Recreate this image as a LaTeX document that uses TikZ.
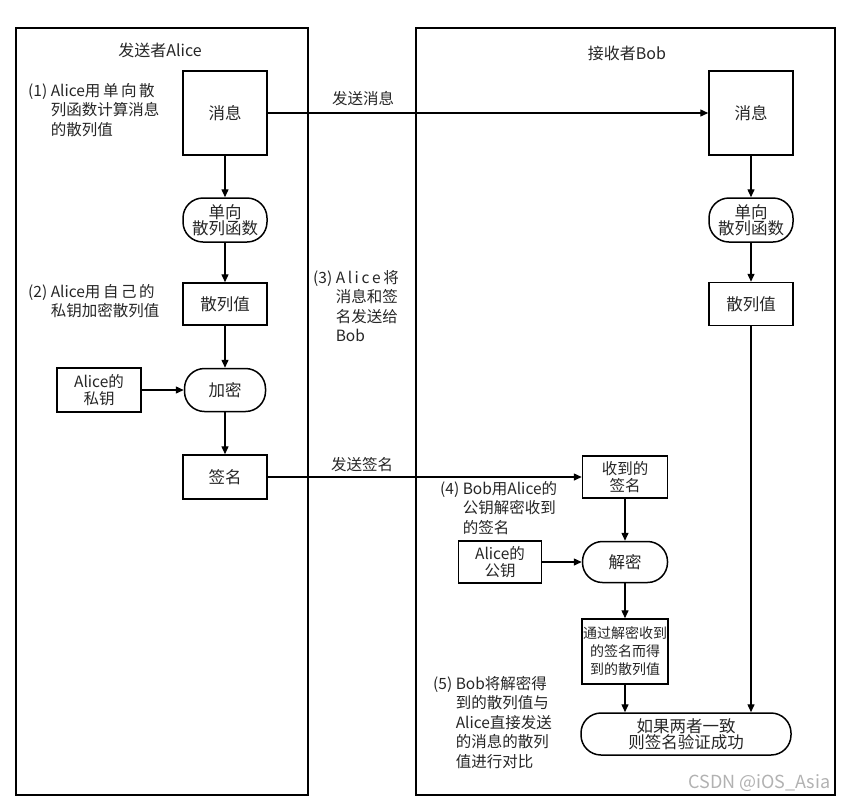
\documentclass[tikz,border=0pt]{standalone}
\usepackage{fontspec}
\setmainfont{Noto Sans CJK SC}
\usetikzlibrary{arrows.meta}
\begin{document}
\begin{tikzpicture}[x=1pt,y=-1pt,
  every node/.style={font=\fontsize{16.5}{19}\selectfont, text=black!85},
  box/.style={draw=black, line width=1.5pt, inner sep=1pt, align=center, minimum width=84pt},
  stad/.style={draw=black, line width=1.5pt, rounded corners=20pt, inner sep=1pt, align=center, minimum width=84pt},
  frame/.style={draw=black, line width=1.6pt, inner sep=0pt},
  arr/.style={draw=black, line width=1.4pt, -{Triangle[length=8pt,width=7pt]}},
  note/.style={anchor=north west, inner sep=0pt, align=left, font=\fontsize{15.5}{19.5}\selectfont}]
\useasboundingbox (0,0) rectangle (850,804);
\fill[white] (0,0) rectangle (850,804);
% panels
\node[frame, minimum width=292pt, minimum height=767pt] (pa) at (162,411.5) {};
\node[frame, minimum width=419pt, minimum height=767pt] (pb) at (625.5,411.5) {};
\node[font=\fontsize{16}{19}\selectfont] (ta) at (160,50) {发送者Alice};
\node[font=\fontsize{16}{19}\selectfont] (tb) at (627,53) {接收者Bob};
% Alice side
\node[box, minimum height=84pt] (ma) at (225,113) {消息};
\node[stad, minimum height=44pt] (fa) at (225,220) {单向\\[-3pt]散列函数};
\node[box, minimum height=42pt] (ha) at (225,304) {散列值};
\node[stad, minimum height=43pt, minimum width=81pt] (enc) at (225,390) {加密};
\node[box, minimum height=44pt, font=\fontsize{15.5}{18}\selectfont] (ka) at (99,390) {Alice的\\[-1pt]私钥};
\node[box, minimum height=44pt] (sa) at (225,477) {签名};
% Bob side
\node[box, minimum height=84pt] (mb) at (751,113) {消息};
\node[stad, minimum height=44pt] (fb) at (751,220) {单向\\[-3pt]散列函数};
\node[box, minimum height=43pt] (hb) at (751,304) {散列值};
\node[box, minimum height=42pt, minimum width=85pt, font=\fontsize{15.5}{18}\selectfont] (sb) at (625,477) {收到的\\[-1pt]签名};
\node[stad, minimum height=41pt, minimum width=85pt] (dec) at (625,562) {解密};
\node[box, minimum height=42pt, minimum width=83pt, font=\fontsize{15.5}{18}\selectfont] (kb) at (500,562) {Alice的\\[-1pt]公钥};
\node[box, minimum height=65pt, minimum width=85pt, font=\fontsize{14}{19}\selectfont] (dv) at (625,651.5) {通过解密收到\\[-1pt]的签名而得\\[-1pt]到的散列值};
\node[stad, minimum height=42pt, minimum width=210pt] (res) at (686,734) {如果两者一致\\[-3pt]则签名验证成功};
% labels
\node[font=\fontsize{15.5}{19}\selectfont] (l1) at (363,99) {发送消息};
\node[font=\fontsize{15.5}{19}\selectfont] (l2) at (362,465) {发送签名};
\node[note] (n1) at (28,83) {(1) Alice用\,单\,向\,散\\\phantom{(1) }列函数计算消息\\\phantom{(1) }的散列值};
\node[note] (n2) at (28,284) {(2) Alice用\,自\,己\,的\\\phantom{(2) }私钥加密散列值};
\node[note] (n3) at (313,270) {(3) A\,l\,i\,c\,e\,将\\\phantom{(3) }消息和签\\\phantom{(3) }名发送给\\\phantom{(3) }Bob};
\node[note] (n4) at (440,481) {(4) Bob用Alice的\\\phantom{(4) }公钥解密收到\\\phantom{(4) }的签名};
\node[note] (n5) at (433,676) {(5) Bob将解密得\\\phantom{(5) }到的散列值与\\\phantom{(5) }Alice直接发送\\\phantom{(5) }的消息的散列\\\phantom{(5) }值进行对比};
\node[text=black!30, font=\fontsize{18}{20}\selectfont, anchor=east] (wm) at (834,783) {CSDN @iOS\_Asia};
% connectors
\draw[arr] (ma) -- (fa);
\draw[arr] (fa) -- (ha);
\draw[arr] (ha) -- (enc);
\draw[arr] (ka) -- (enc);
\draw[arr] (enc) -- (sa);
\draw[arr] (ma.east) -- (mb.west);
\draw[arr] (sa.east) -- (sb.west);
\draw[arr] (mb) -- (fb);
\draw[arr] (fb) -- (hb);
\draw[arr] (hb.south) -- (hb.south |- res.north);
\draw[arr] (sb) -- (dec);
\draw[arr] (kb) -- (dec);
\draw[arr] (dec) -- (dv);
\draw[arr] (dv.south) -- (dv.south |- res.north);
\end{tikzpicture}
\end{document}
